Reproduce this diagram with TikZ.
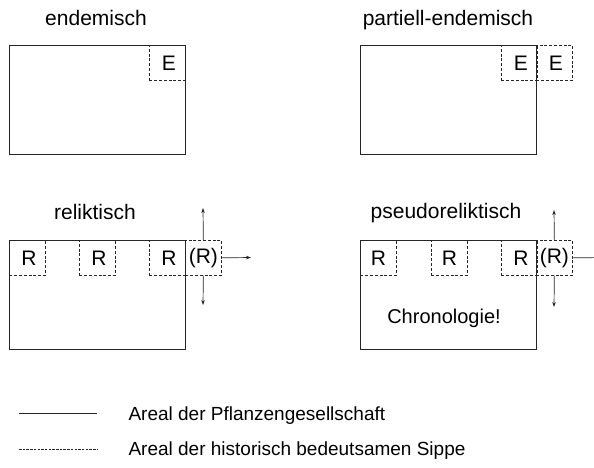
\documentclass[tikz,border=0pt]{standalone}
\usepackage{fontspec}
\setmainfont{Liberation Sans}
\usetikzlibrary{arrows.meta}
\begin{document}
\begin{tikzpicture}[x=1pt,y=-1pt,
 ink/.style={draw=black!85},
 area/.style={ink, line width=0.8pt, inner sep=0pt, minimum width=176pt, minimum height=109pt, anchor=north west},
 sippe/.style={ink, dash pattern=on 3pt off 1.8pt, line width=0.7pt, inner sep=0pt, minimum width=36pt, minimum height=35pt, anchor=north west, font=\fontsize{21}{21}\selectfont},
 title/.style={font=\fontsize{21}{21}\selectfont, anchor=base},
 legend/.style={font=\fontsize{19}{19}\selectfont, anchor=base west},
 arr/.style={ink, line width=0.7pt, -{Stealth[length=5pt,width=3.5pt]}}]
\useasboundingbox (0,0) rectangle (594,467);
% panel 1
\node[title] (t1) at (96,25) {endemisch};
\node[area] (a1) at (9,45) {};
\node[sippe] (e1) at (149,45) {\hspace{3pt}E};
% panel 2
\node[title] (t2) at (448,25) {partiell-endemisch};
\node[area] (a2) at (360,45) {};
\node[sippe] (e2a) at (501,45) {\hspace{3pt}E};
\node[sippe] (e2b) at (536,45) {\hspace{3pt}E};
% panel 3
\node[title] (t3) at (95,219) {reliktisch};
\node[area] (a3) at (9,240) {};
\node[sippe] (r3a) at (9,240) {\hspace{3pt}R};
\node[sippe] (r3b) at (79,240) {\hspace{3pt}R};
\node[sippe] (r3c) at (149,240) {\hspace{3pt}R};
\node[sippe] (p3) at (185,240) {(R)};
\coordinate (u3) at (203,208);
\coordinate (d3) at (203,305);
\coordinate (w3) at (251,257.5);
\draw[arr] (p3.north) -- (u3);
\draw[arr] (p3.south) -- (d3);
\draw[arr] (p3.east) -- (w3);
% panel 4
\node[title] (t4) at (446,218) {pseudoreliktisch};
\node[area] (a4) at (360,240) {};
\node[sippe] (r4a) at (360,240) {R};
\node[sippe] (r4b) at (431,240) {R};
\node[sippe] (r4c) at (501,240) {\hspace{3pt}R};
\node[sippe] (p4) at (536,240) {(R)};
\node[font=\fontsize{20}{20}\selectfont, anchor=base] (c4) at (444,323) {Chronologie!};
\coordinate (u4) at (554,210);
\coordinate (d4) at (554,307);
\coordinate (w4) at (606,257.5);
\draw[arr] (p4.north) -- (u4);
\draw[arr] (p4.south) -- (d4);
\draw[arr] (p4.east) -- (w4);
% legend
\coordinate (l1a) at (19,413);
\coordinate (l1b) at (97,413);
\coordinate (l2a) at (19,449);
\coordinate (l2b) at (97,449);
\draw[ink, line width=0.8pt] (l1a) -- (l1b);
\draw[ink, line width=0.7pt, dash pattern=on 2.5pt off 1.2pt] (l2a) -- (l2b);
\node[legend] (g1) at (125,420) {Areal der Pflanzengesellschaft};
\node[legend] (g2) at (125,455) {Areal der historisch bedeutsamen Sippe};
\end{tikzpicture}
\end{document}
